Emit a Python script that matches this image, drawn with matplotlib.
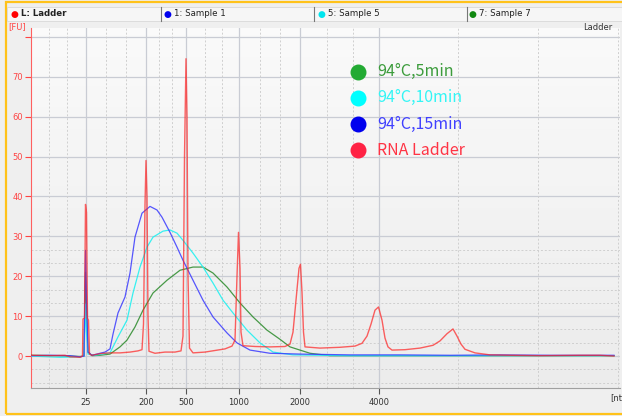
import numpy as np
import matplotlib
matplotlib.use('Agg')
import matplotlib.pyplot as plt
from matplotlib.patches import Rectangle
from matplotlib.lines import Line2D

# migration position (arbitrary units along the run) and fluorescence [FU]
ladder_x = [31, 50, 65, 70, 80, 82.5, 83, 84.5, 85.5, 86.5, 87.5, 88.5, 89.5, 92, 100, 110, 120, 130,
            138, 142, 143.5, 145, 146, 147, 148, 149, 155, 165, 175, 181, 183, 184.5, 186, 187, 188,
            189.5, 193, 205, 215, 225, 232, 235, 237, 238.5, 240, 241, 243, 255, 270, 285, 290, 293,
            296, 299, 300.5, 302, 303.5, 305, 320, 340, 355, 362, 367, 371, 375, 378.5, 382, 385, 388,
            392, 405, 420, 433, 440, 447, 453, 457, 461, 465, 475, 490, 510, 540, 580, 600, 614]
ladder_y = [0.2, 0.1, 0.2, -0.2, -0.3, 0, 9.3, 9.5, 38, 36, 9.5, 9, 0.5, 0.2, 0.6, 0.8, 0.8, 1.0,
            1.3, 1.6, 8, 38, 49, 40, 10, 1.2, 0.7, 1.0, 1.0, 1.3, 5, 50, 74.5, 60, 20,
            2, 0.8, 1.0, 1.4, 1.8, 2.5, 4, 20, 31, 22, 6, 2.6, 2.4, 2.3, 2.4, 3, 6,
            14, 22, 23, 16, 6, 2.3, 2.0, 2.2, 2.5, 3.2, 5, 8, 11.5, 12.3, 9, 4.5, 2.3,
            1.5, 1.6, 2.0, 2.7, 3.8, 5.6, 6.8, 5, 3, 1.7, 0.8, 0.3, 0.2, 0.1, 0.2, 0.2, 0]

s1_x = [31, 50, 70, 80, 84, 85.5, 86.5, 88, 92, 100, 105, 110, 113, 118, 125, 130, 135, 142, 150,
        157, 162, 170, 177, 183, 193, 203, 213, 227, 237, 250, 270, 300, 350, 400, 450, 500, 550, 614]
s1_y = [0.1, 0.2, 0.1, -0.2, 0, 26.5, 15, 1, 0.2, 0.7, 1.0, 1.8, 5.5, 10.8, 14.8, 20.8, 29.8, 35.8, 37.5,
        36.6, 34.8, 31, 27.3, 24, 19, 14, 9.8, 5.8, 3.3, 1.5, 0.7, 0.5, 0.3, 0.3, 0.2, 0.3, 0.2, 0.2]

s5_x = [31, 60, 80, 84, 85.5, 86.5, 88, 95, 110, 118, 127, 133, 140, 147, 153, 163, 170, 177, 183,
        193, 203, 213, 223, 233, 247, 260, 273, 293, 350, 614]
s5_y = [0, -0.3, -0.2, 0, 13, 6, 0.5, 0.2, 0.8, 4.8, 9, 15.8, 22.3, 27.3, 29.8, 31.3, 31.6, 30.8, 29,
        25.8, 22.3, 18.3, 14, 10.8, 6.5, 3.3, 1.0, 0.3, 0.1, 0.1]

s7_x = [31, 60, 80, 84, 85.5, 86.5, 88, 92, 100, 110, 120, 127, 135, 143, 153, 167, 180, 193, 203,
        213, 227, 240, 253, 267, 280, 290, 300, 310, 330, 614]
s7_y = [0.2, 0.1, -0.1, 0, 21, 12, 1, 0.1, 0.2, 0.5, 2.3, 4, 7.3, 11.5, 15.8, 19, 21.5, 22.3, 22.3,
        20.8, 17.3, 13.3, 9.8, 6.5, 4.2, 2.3, 1.5, 0.7, 0.1, 0.1]

size_pos = [86, 146, 186, 239, 300, 379]
size_labels = ['25', '200', '500', '1000', '2000', '4000']
minor_pos = [49, 67, 106, 126, 159, 172, 205, 222, 260, 280, 327, 353, 458, 538, 618]

legend_labels = ['94°C,5min', '94°C,10min', '94°C,15min', 'RNA Ladder']
legend_dot = ['#22aa33', '#00ffff', '#0000ee', '#ff2244']
legend_txt = ['#3c9c3c', '#33f5f5', '#4040ff', '#ff3344']

W, H = 622, 416
fig = plt.figure(figsize=(W / 100, H / 100), dpi=100)
fig.patch.set_facecolor('#efefef')

# outer yellow frame + tab bar
fig.patches.append(Rectangle((6 / W, 2 / H), 1.2, 412 / H, transform=fig.transFigure,
                             fill=False, ec='#ffc21a', lw=1.6, zorder=0))
fig.patches.append(Rectangle((7 / W, (H - 21) / H), 1.0, 14 / H, transform=fig.transFigure,
                             fc='#f6f6f6', ec='#d8d8d8', lw=0.6, zorder=1))
for sx in [161, 314, 467]:
    fig.add_artist(Line2D([sx / W, sx / W], [(H - 21) / H, (H - 7) / H], color='#777777', lw=0.8))

tabs = [(14, 'L: Ladder', '#ff0000', 'bold'), (167, '1: Sample 1', '#0000ee', 'normal'),
        (321, '5: Sample 5', '#00e5ee', 'normal'), (472, '7: Sample 7', '#118811', 'normal')]
for tx, name, col, wt in tabs:
    fig.text(tx / W, (H - 14) / H, '\u25cf', color=col, fontsize=6.5, ha='center', va='center')
    fig.text((tx + 7) / W, (H - 14) / H, name, color='#222222', fontsize=6.2, fontweight=wt,
             ha='left', va='center')

ax = fig.add_axes([31 / W, (H - 388) / H, 589 / W, 360 / H])
ax.set_xlim(31, 620)
ax.set_ylim(-8.0, 82.2)

# background gradient
grad = np.linspace(1, 0, 50).reshape(-1, 1)
ax.imshow(grad, extent=[0, 1, 0, 1], transform=ax.transAxes, aspect='auto', zorder=0,
          cmap=matplotlib.colors.LinearSegmentedColormap.from_list('bg', ['#ececec', '#fafafa']))

# grid
for yv in range(0, 90, 10):
    ax.axhline(yv, color='#c9ccd4', lw=0.9, zorder=1)
for yv in np.arange(-20, 90, 10) / 3:
    if abs(yv - round(yv / 10) * 10) > 0.1:
        ax.axhline(yv, color='#cfcfcf', lw=0.7, ls=(0, (2, 2)), zorder=1)
for xv in size_pos:
    ax.axvline(xv, color='#c9ccd4', lw=0.9, zorder=1)
for xv in minor_pos:
    ax.axvline(xv, color='#cfcfcf', lw=0.7, ls=(0, (2, 2)), zorder=1)

ax.plot(s7_x, s7_y, color='#2a8a2a', lw=0.9, alpha=0.85, zorder=3)
ax.plot(s5_x, s5_y, color='#22f0f0', lw=0.9, alpha=0.9, zorder=3)
ax.plot(s1_x, s1_y, color='#3a3aff', lw=0.9, alpha=0.85, zorder=3)
ax.plot(ladder_x, ladder_y, color='#ff2020', lw=1.0, alpha=0.7, zorder=4)

# legend
leg_y = [0.878, 0.806, 0.733, 0.661]
for i in range(4):
    ax.scatter([0.555], [leg_y[i]], s=110, color=legend_dot[i], transform=ax.transAxes, zorder=5)
    ax.text(0.588, leg_y[i], legend_labels[i], color=legend_txt[i], fontsize=11.5,
            family=['Noto Sans CJK SC', 'DejaVu Sans'], ha='left', va='center',
            transform=ax.transAxes, zorder=5)

for side in ['top', 'right']:
    ax.spines[side].set_visible(False)
ax.spines['left'].set_color('#ff6060')
ax.spines['bottom'].set_color('#a0a0a0')

ax.set_yticks(range(0, 90, 10))
ax.set_yticklabels([str(v) for v in range(0, 80, 10)] + [''])
ax.tick_params(axis='y', colors='#ff4444', labelsize=6, length=4, width=0.8, pad=2)
ax.set_xticks(size_pos)
ax.set_xticklabels(size_labels)
ax.tick_params(axis='x', colors='#555555', labelcolor='#333333', labelsize=6, length=4, width=0.8, pad=3)

fig.text(8 / W, (H - 27) / H, '[FU]', color='#ff4444', fontsize=6, ha='left', va='center')
fig.text(612 / W, (H - 28) / H, 'Ladder', color='#333333', fontsize=6, ha='right', va='center')
fig.text(610 / W, (H - 398) / H, '[nt]', color='#333333', fontsize=6, ha='left', va='center')

fig.savefig('out.png', dpi=100)
